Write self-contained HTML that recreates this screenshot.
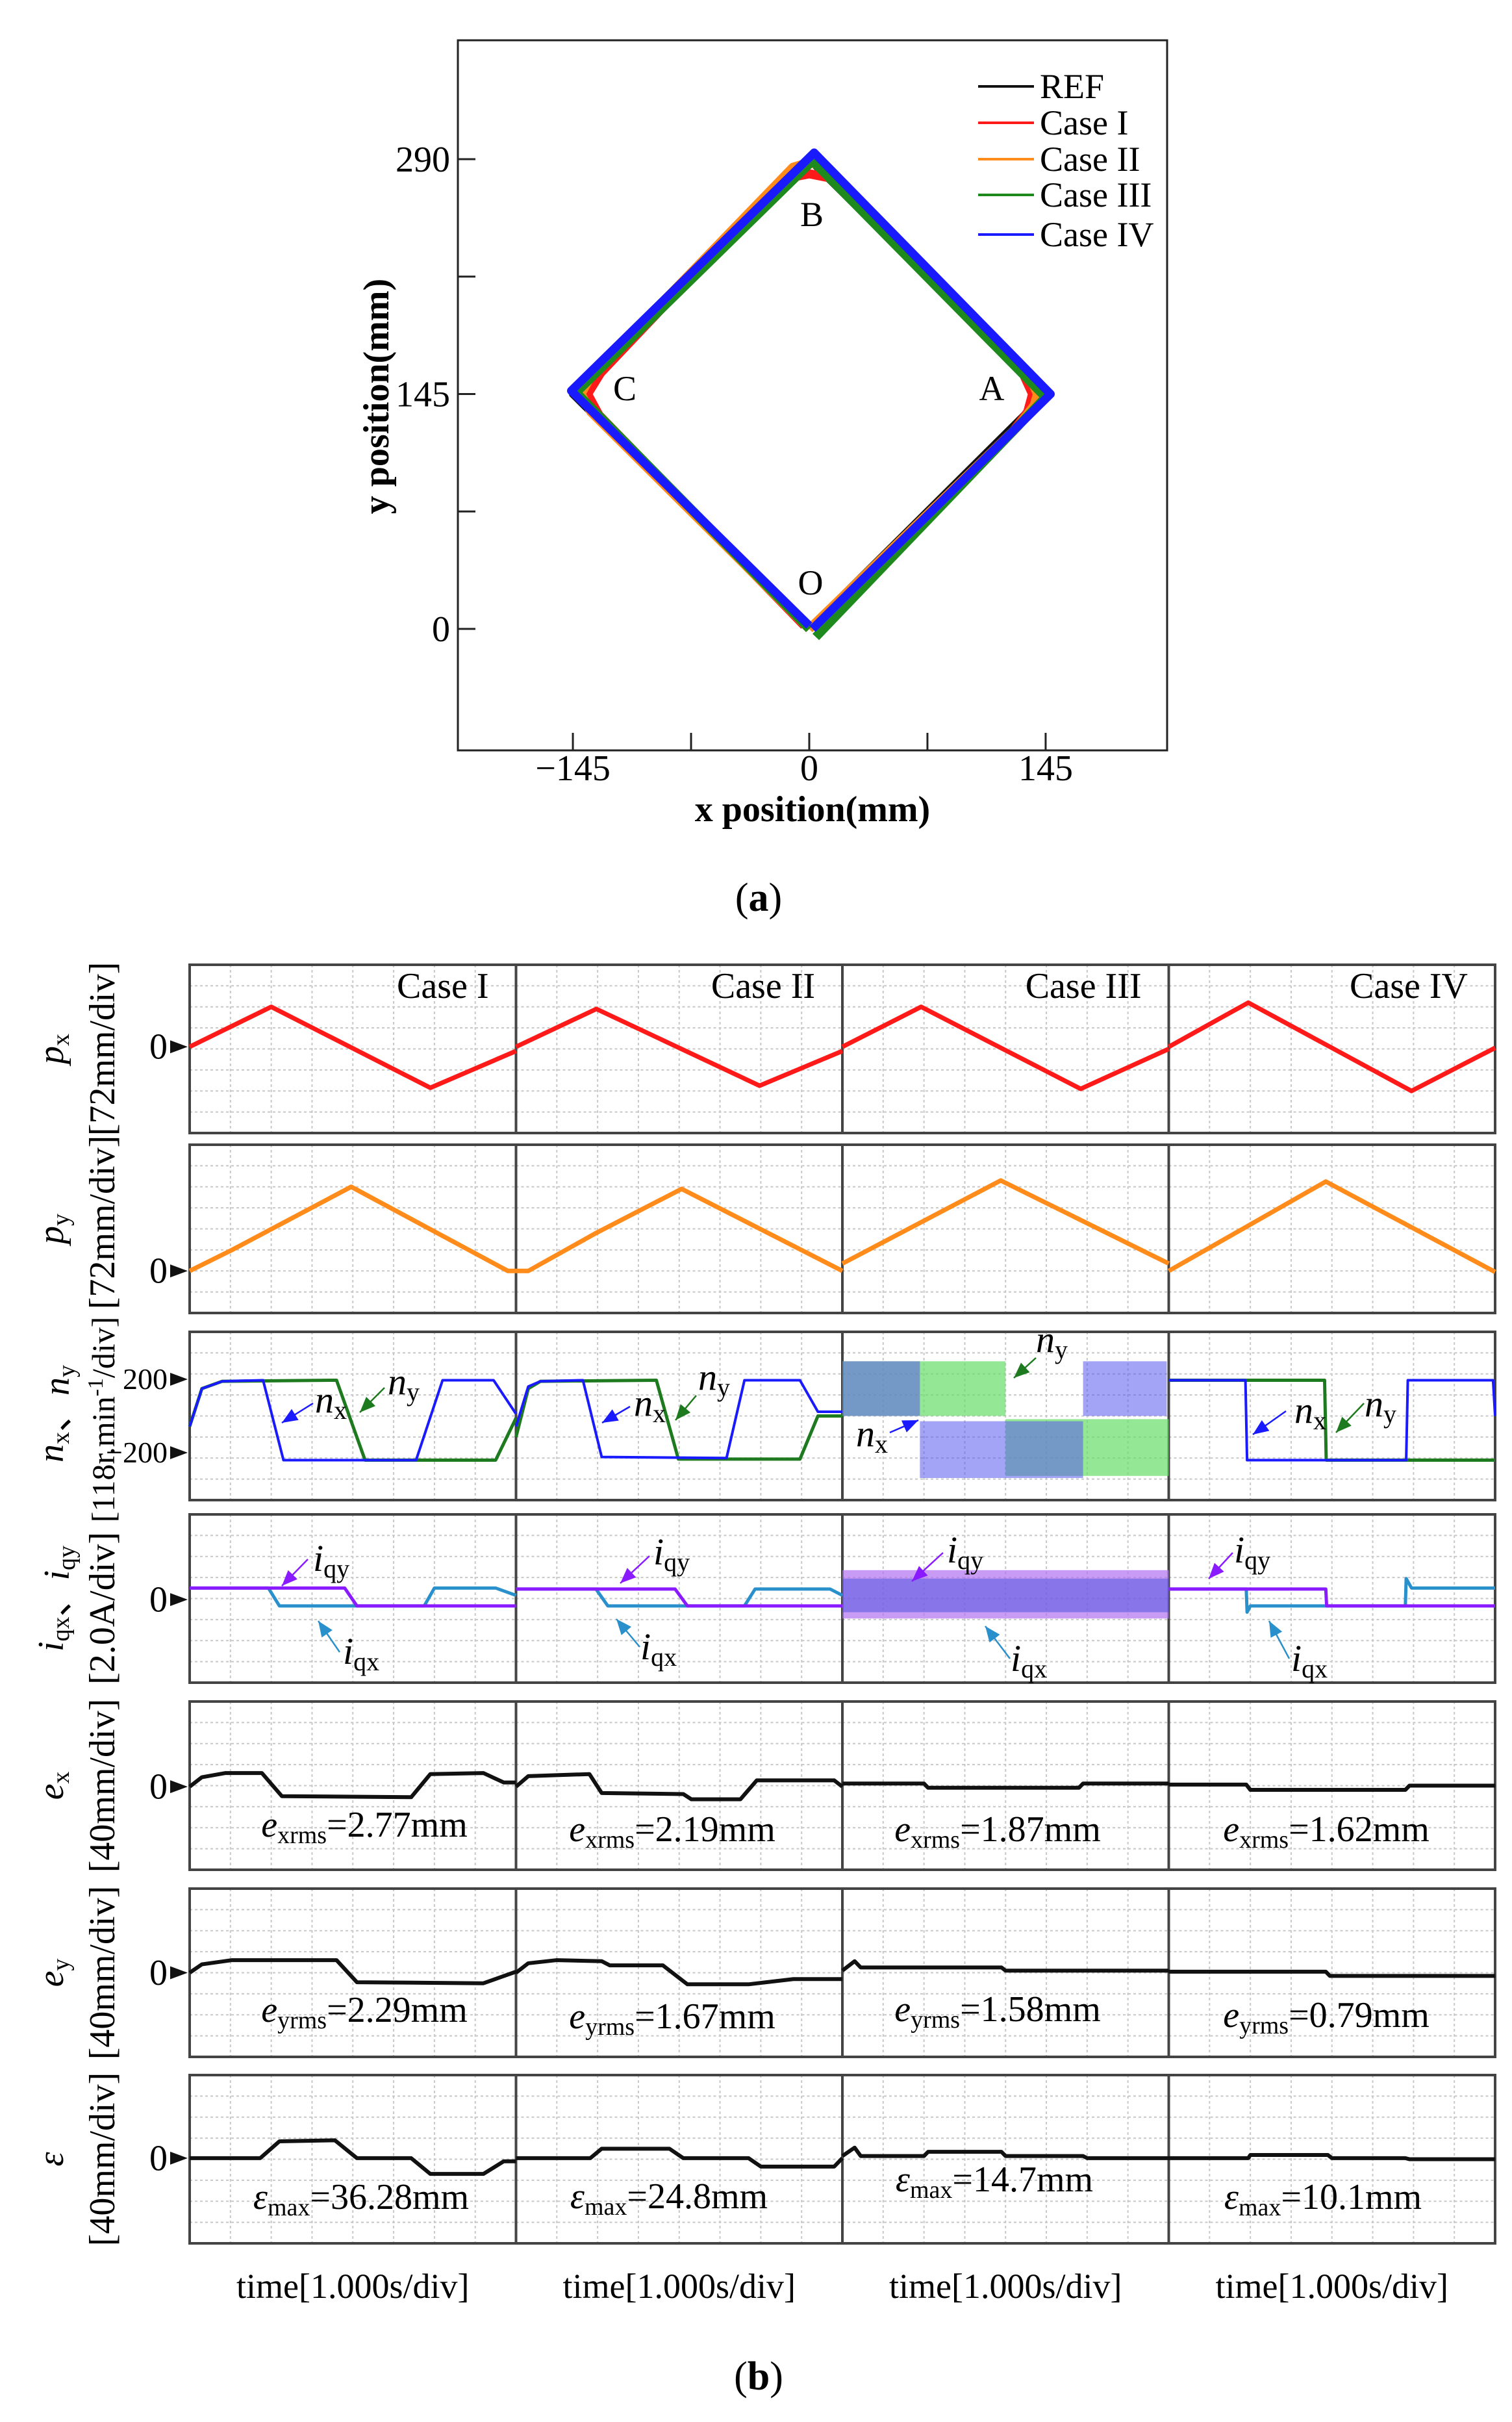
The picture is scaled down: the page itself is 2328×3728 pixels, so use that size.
<!DOCTYPE html>
<html><head><meta charset="utf-8">
<style>
html,body{margin:0;padding:0;background:#fff;}
svg{display:block;font-family:"Liberation Serif","DejaVu Serif",serif;}
</style></head>
<body>
<svg id="fig" xmlns="http://www.w3.org/2000/svg" width="2328" height="3728" viewBox="0 0 2328 3728">
<rect x="0" y="0" width="2328" height="3728" fill="#fff"/>
<g id="chartA"></g>
<g id="chartB"></g>
</svg>
<script>
// ===== Chart (a) data =====
const xTicks = [-145, 0, 145];
const yTicks = [0, 145, 290];
const xMinorTicks = [-145, -72.5, 0, 72.5, 145];
const yMinorTicks = [0, 72.5, 145, 217.5, 290];
const legendNames = ["REF", "Case I", "Case II", "Case III", "Case IV"];
const legendColors = ["#111111", "#ff1a1a", "#ff8c1a", "#1e8a1e", "#1a1aff"];
const refPath = [[0,0],[145,145],[0,290],[-145,145],[0,0]];
const case1Path = [[3,0],[125,122],[134,134],[137,145],[131,158],[15,278],[0,281],[-15,278],[-128,158],[-136,145],[-129,132],[-3,2]];
const case2Path = [[0,0],[128,125],[138,138],[140,145],[136,154],[10,285],[0,288],[-10,285],[-134,156],[-140,145],[-134,134],[0,0]];
const case3Path = [[4,-5],[145,143],[2,289],[-143,146],[0,0]];
const case4Path = [[2,0],[148,145],[3,294],[-146,147],[0,2]];

// ===== Chart (b) data (time and value in divisions) =====
const caseTitles = ["Case I", "Case II", "Case III", "Case IV"];
const pxCase1 = [[0,0],[2,1.9],[5.9,-1.95],[8,-0.2]];
const pxCase2 = [[0,0],[1.97,1.8],[5.97,-1.85],[8,-0.2]];
const pxCase3 = [[0,0],[1.93,1.9],[5.84,-2.0],[8,-0.1]];
const pxCase4 = [[0,0],[1.95,2.1],[5.95,-2.1],[8,-0.05]];
const pyCase1 = [[0,0],[1.04,1.0],[3.96,4.0],[7.8,0],[8,0]];
const pyCase2 = [[0,0],[0.3,0],[1.96,1.8],[4.06,3.9],[8,0]];
const pyCase3 = [[0,0.35],[3.88,4.3],[8,0.35]];
const pyCase4 = [[0,0],[3.85,4.25],[8,-0.05]];
const nxCase1 = [[0,-0.3],[0.3,1.5],[0.8,1.85],[1.8,1.9],[2.3,-1.9],[5.55,-1.9],[6.2,1.9],[7.45,1.9],[8,0.3]];
const nyCase1 = [[0,-0.3],[0.3,1.5],[0.8,1.85],[3.6,1.9],[4.3,-1.9],[7.5,-1.9],[8,0.1]];
const nxCase2 = [[0,-0.3],[0.3,1.6],[0.6,1.85],[1.64,1.9],[2.1,-1.75],[5.16,-1.8],[5.6,1.9],[6.96,1.9],[7.4,0.4],[8,0.4]];
const nyCase2 = [[0,-0.8],[0.3,1.5],[0.6,1.85],[3.44,1.9],[3.98,-1.85],[6.96,-1.85],[7.4,0.2],[8,0.2]];
const nxCase4 = [[0,1.9],[1.88,1.9],[1.92,-1.9],[5.82,-1.9],[5.86,1.9],[7.95,1.9],[8,0.2]];
const nyCase4 = [[0,1.9],[3.82,1.9],[3.86,-1.9],[8,-1.9]];
const nxBands3 = [[0,1.9,1.5,1.3],[1.9,5.9,-1.4,1.35],[5.9,7.95,1.5,1.3]];
const nyBands3 = [[0,4.0,1.5,1.3],[4.0,8,-1.3,1.35]];
const iqyCase1 = [[0,0.55],[3.8,0.55],[4.1,-0.3],[8,-0.3]];
const iqxCase1 = [[0,0.55],[1.93,0.55],[2.2,-0.3],[5.75,-0.3],[6.0,0.55],[7.5,0.55],[8,0.2]];
const iqyCase2 = [[0,0.5],[3.9,0.5],[4.2,-0.3],[8,-0.3]];
const iqxCase2 = [[0,0.5],[1.96,0.5],[2.25,-0.3],[5.6,-0.3],[5.86,0.5],[7.7,0.5],[8,0.2]];
const iqyCase4 = [[0,0.5],[3.85,0.5],[3.87,-0.3],[8,-0.3]];
const iqxCase4 = [[0,0.5],[1.9,0.5],[1.92,-0.6],[2.0,-0.3],[5.8,-0.3],[5.82,1.0],[5.95,0.55],[8,0.55]];
const iqBand3Purple = [[0,8,0.25,1.15]];
const iqBand3Blue = [[0,8,0.2,0.8]];
const exCase1 = [[0,0],[0.3,0.45],[0.88,0.65],[1.77,0.65],[2.26,-0.45],[5.43,-0.5],[5.9,0.6],[7.2,0.65],[7.7,0.2],[8,0.2]];
const exCase2 = [[0,0],[0.3,0.5],[1.8,0.6],[2.1,-0.3],[4.1,-0.35],[4.3,-0.6],[5.5,-0.6],[5.9,0.3],[7.8,0.3],[8,0]];
const exCase3 = [[0,0.15],[2.0,0.15],[2.1,-0.05],[5.8,-0.05],[5.9,0.15],[8,0.15]];
const exCase4 = [[0,0.1],[1.9,0.1],[2.0,-0.15],[5.8,-0.15],[5.9,0.05],[8,0.05]];
const eyCase1 = [[0,0],[0.3,0.4],[1.04,0.6],[3.6,0.6],[4.1,-0.45],[7.2,-0.5],[8,0.05]];
const eyCase2 = [[0,0],[0.3,0.45],[1.0,0.6],[2.1,0.55],[2.3,0.35],[3.6,0.35],[4.2,-0.55],[5.7,-0.55],[6.8,-0.3],[8,-0.3]];
const eyCase3 = [[0,0.1],[0.3,0.55],[0.45,0.25],[3.9,0.25],[4.0,0.1],[8,0.1]];
const eyCase4 = [[0,0.05],[3.85,0.05],[3.95,-0.15],[8,-0.15]];
const epsCase1 = [[0,0],[1.73,0],[2.2,0.8],[3.56,0.85],[4.1,0],[5.43,0],[5.9,-0.75],[7.2,-0.75],[7.7,-0.15],[8,-0.15]];
const epsCase2 = [[0,0],[1.82,0],[2.1,0.45],[3.76,0.45],[4.1,0],[5.7,0],[6.0,-0.4],[7.8,-0.4],[8,0]];
const epsCase3 = [[0,0.1],[0.3,0.5],[0.45,0.1],[2.0,0.1],[2.1,0.3],[3.9,0.3],[4.0,0.1],[5.9,0.1],[6.0,0],[8,0]];
const epsCase4 = [[0,0],[1.95,0],[2.0,0.15],[3.9,0.15],[4.0,0],[5.8,0],[5.9,-0.05],[8,-0.05]];
const exLabels = ["2.77mm", "2.19mm", "1.87mm", "1.62mm"];
const eyLabels = ["2.29mm", "1.67mm", "1.58mm", "0.79mm"];
const epsLabels = ["36.28mm", "24.8mm", "14.7mm", "10.1mm"];

const NS = "http://www.w3.org/2000/svg";
function mk(parent, tag, attrs, text) {
  const el = document.createElementNS(NS, tag);
  for (const k in attrs) el.setAttribute(k, attrs[k]);
  if (text !== undefined) el.textContent = text;
  parent.appendChild(el);
  return el;
}

// ===== Chart (a) =====
(function () {
  const g = document.getElementById('chartA');
  const L = 705, R = 1797, T = 62, B = 1155;
  const sx = v => 1246 + v * 2.51;
  const sy = v => 968 - v * 2.493;
  const frame = mk(g, 'rect', {x: L, y: T, width: R - L, height: B - T, fill: 'none', stroke: '#222', 'stroke-width': 3});
  
  
  xMinorTicks.forEach(v => { const t = mk(g, 'line', {x1: sx(v), x2: sx(v), y1: B, y2: B - 27, stroke: '#222', 'stroke-width': 3});
      });
  yMinorTicks.forEach(v => { const t = mk(g, 'line', {x1: L, x2: L + 27, y1: sy(v), y2: sy(v), stroke: '#222', 'stroke-width': 3});
      });
  xTicks.forEach(v => { const t = mk(g, 'text', {x: sx(v), y: 1201, 'font-size': 56, 'text-anchor': 'middle'}, v < 0 ? '\u2212' + (-v) : String(v));
      });
  yTicks.forEach(v => { const t = mk(g, 'text', {x: 693, y: sy(v) + 19, 'font-size': 56, 'text-anchor': 'end'}, String(v));
      });
  const xt = mk(g, 'text', {x: 1251, y: 1264, 'font-size': 56, 'font-weight': 'bold', 'text-anchor': 'middle'}, 'x position(mm)');
   
  const yt = mk(g, 'text', {x: 0, y: 0, 'font-size': 56, 'font-weight': 'bold', 'text-anchor': 'middle', transform: 'translate(598,610) rotate(-90)'}, 'y position(mm)');
   
  const paths = [refPath, case1Path, case2Path, case3Path, case4Path];
  const widths = [12, 14, 14, 14, 13];
  paths.forEach((p, i) => {
    const pl = mk(g, 'polyline', {points: p.map(q => sx(q[0]) + ',' + sy(q[1])).join(' '), fill: 'none', stroke: legendColors[i], 'stroke-width': widths[i], 'stroke-linejoin': 'round'});
    
    
  });
  const pts = [['B', 1250, 348], ['C', 962, 616], ['A', 1527, 616], ['O', 1248, 915]];
  pts.forEach(p => { const t = mk(g, 'text', {x: p[1], y: p[2], 'font-size': 54, 'text-anchor': 'middle'}, p[0]);
      });
  const legendY = [133, 189, 245, 300, 361];
  legendNames.forEach((n, i) => {
    const lg = mk(g, 'g', {});
    
    
    mk(lg, 'line', {x1: 1506, x2: 1592, y1: legendY[i], y2: legendY[i], stroke: legendColors[i], 'stroke-width': 4});
    mk(lg, 'text', {x: 1601, y: legendY[i] + 18, 'font-size': 54}, n);
  });
  const la = mk(g, 'text', {x: 1168, y: 1402, 'font-size': 62, 'text-anchor': 'middle'}, '');
   
  la.innerHTML = '(<tspan font-weight="bold">a</tspan>)';
})();

// ===== Chart (b) =====
(function () {
  const g = document.getElementById('chartB');
  const colL = [292, 794.5, 1297, 1799.5], colW = 502.5;
  const rowT = [1485, 1762, 2050, 2331, 2619, 2907, 3194], rowH = 259;
  const zeroDiv = [4.1, 2.0, 3.8, 3.95, 3.95, 4.0, 4.05];
  const divW = colW / 8, divH = rowH / 8;
  const X = (c, t) => colL[c] + t * divW;
  const Y = (r, v) => rowT[r] + rowH - (zeroDiv[r] + v) * divH;

  rowT.forEach((top, r) => {
    const pg = mk(g, 'g', {});
    
    
    for (let c = 0; c < 4; c++) {
      for (let i = 1; i < 8; i++) {
        mk(pg, 'line', {x1: X(c, i), x2: X(c, i), y1: top, y2: top + rowH, stroke: '#c8c8c8', 'stroke-width': 2, 'stroke-dasharray': '4 4'});
        mk(pg, 'line', {x1: colL[c], x2: colL[c] + colW, y1: top + i * divH, y2: top + i * divH, stroke: '#c8c8c8', 'stroke-width': 2, 'stroke-dasharray': '4 4'});
      }
    }
    mk(pg, 'rect', {x: 292, y: top, width: colW * 4, height: rowH, fill: 'none', stroke: '#444', 'stroke-width': 4});
    for (let c = 1; c < 4; c++) mk(pg, 'line', {x1: colL[c], x2: colL[c], y1: top, y2: top + rowH, stroke: '#444', 'stroke-width': 4});
  });

  function trace(r, c, data, color, w, name) {
    const pl = mk(g, 'polyline', {points: data.map(p => X(c, p[0]) + ',' + Y(r, p[1])).join(' '), fill: 'none', stroke: color, 'stroke-width': w, 'stroke-linejoin': 'round'});
    
    
  }
  function band(r, c, bands, color, op, name) {
    bands.forEach(b => {
      const rc = mk(g, 'rect', {x: X(c, b[0]), y: Y(r, b[2] + b[3]), width: X(c, b[1]) - X(c, b[0]), height: Y(r, b[2] - b[3]) - Y(r, b[2] + b[3]), fill: color, 'fill-opacity': op});
      
      
    });
  }
  const RED = '#ff1a1a', ORG = '#ff8c1a', BLU = '#1a1aff', GRN = '#1e7a1e', PUR = '#8a1aff', LBL = '#2a90cc';
  [pxCase1, pxCase2, pxCase3, pxCase4].forEach((d, c) => trace(0, c, d, RED, 7, 'px-trace'));
  [pyCase1, pyCase2, pyCase3, pyCase4].forEach((d, c) => trace(1, c, d, ORG, 7, 'py-trace'));
  trace(2, 0, nyCase1, GRN, 5, 'ny-trace'); trace(2, 0, nxCase1, BLU, 4, 'nx-trace');
  trace(2, 1, nyCase2, GRN, 5, 'ny-trace'); trace(2, 1, nxCase2, BLU, 4, 'nx-trace');
  band(2, 2, nyBands3, '#66dd66', 0.7, 'ny-noise-band');
  band(2, 2, nxBands3, '#5a5aee', 0.55, 'nx-noise-band');
  trace(2, 3, nyCase4, GRN, 5, 'ny-trace'); trace(2, 3, nxCase4, BLU, 4, 'nx-trace');
  trace(3, 0, iqxCase1, LBL, 5, 'iqx-trace'); trace(3, 0, iqyCase1, PUR, 5, 'iqy-trace');
  trace(3, 1, iqxCase2, LBL, 5, 'iqx-trace'); trace(3, 1, iqyCase2, PUR, 5, 'iqy-trace');
  band(3, 2, iqBand3Purple, '#b070f0', 0.7, 'iqy-noise-band');
  band(3, 2, iqBand3Blue, '#4a50e0', 0.5, 'iqx-noise-band');
  trace(3, 3, iqxCase4, LBL, 5, 'iqx-trace'); trace(3, 3, iqyCase4, PUR, 5, 'iqy-trace');
  [exCase1, exCase2, exCase3, exCase4].forEach((d, c) => trace(4, c, d, '#111', 6, 'ex-trace'));
  [eyCase1, eyCase2, eyCase3, eyCase4].forEach((d, c) => trace(5, c, d, '#111', 6, 'ey-trace'));
  [epsCase1, epsCase2, epsCase3, epsCase4].forEach((d, c) => trace(6, c, d, '#111', 6, 'eps-trace'));

  caseTitles.forEach((t, c) => { const tx = mk(g, 'text', {x: colL[c] + colW - 42, y: 1536, 'font-size': 56, 'text-anchor': 'end'}, t);
      });

  function marker(y, label, fs) {
    const mg = mk(g, 'g', {});
    
    
    mk(mg, 'polygon', {points: (262) + ',' + (y - 10) + ' 289,' + y + ' 262,' + (y + 10), fill: '#111'});
    mk(mg, 'text', {x: 258, y: y + fs * 0.33, 'font-size': fs, 'text-anchor': 'end'}, label);
  }
  [0, 1, 3, 4, 5, 6].forEach(r => marker(Y(r, 0), '0', 56));
  marker(2123, '200', 46);
  marker(2236, '\u2212200', 46);

  function ylab(cx, cy, html, name, fs) {
    const t = mk(g, 'text', {x: 0, y: 0, 'font-size': fs || 56, 'text-anchor': 'middle', transform: 'translate(' + cx + ',' + cy + ') rotate(-90)'});
    
    
    t.innerHTML = html;
  }
  const sub = s => '<tspan font-size="38" dy="9">' + s + '</tspan><tspan dy="-9"></tspan>';
  const rc = r => rowT[r] + rowH / 2;
  ylab(97, rc(0), '<tspan font-style="italic">p</tspan>' + sub('x'), 'px-axis-symbol');
  ylab(176, rc(0), '[72mm/div]', 'px-axis-unit');
  ylab(97, rc(1), '<tspan font-style="italic">p</tspan>' + sub('y'), 'py-axis-symbol');
  ylab(176, rc(1) - 10, '[72mm/div]', 'py-axis-unit');
  ylab(97, 2176, '<tspan font-style="italic">n</tspan>' + sub('x') + '\u3001<tspan font-style="italic">n</tspan>' + sub('y'), 'n-axis-symbol');
  ylab(176, 2185, '[118r.min<tspan font-size="34" dy="-18">-1</tspan><tspan dy="18">/div]</tspan>', 'n-axis-unit', 50);
  ylab(97, rc(3), '<tspan font-style="italic">i</tspan>' + sub('qx') + '\u3001<tspan font-style="italic">i</tspan>' + sub('qy'), 'iq-axis-symbol');
  ylab(176, rc(3) + 15, '[2.0A/div]', 'iq-axis-unit');
  ylab(97, rc(4), '<tspan font-style="italic">e</tspan>' + sub('x'), 'ex-axis-symbol');
  ylab(176, rc(4), '[40mm/div]', 'ex-axis-unit');
  ylab(97, rc(5), '<tspan font-style="italic">e</tspan>' + sub('y'), 'ey-axis-symbol');
  ylab(176, rc(5), '[40mm/div]', 'ey-axis-unit');
  ylab(97, rc(6), '<tspan font-style="italic">\u03b5</tspan>', 'eps-axis-symbol');
  ylab(176, rc(6), '[40mm/div]', 'eps-axis-unit');

  function metric(cx, y, sym, subs, val, name) {
    const t = mk(g, 'text', {x: cx, y: y, 'font-size': 56, 'text-anchor': 'middle'});
    
    
    t.innerHTML = '<tspan font-style="italic">' + sym + '</tspan><tspan font-size="38" dy="10">' + subs + '</tspan><tspan dy="-10">=' + val + '</tspan>';
  }
  const exY = [2827, 2834, 2834, 2834], eyY = [3112, 3122, 3111, 3120], epY = [3400, 3399, 3373, 3400];
  const cxs = [561, 1035, 1536, 2042];
  for (let c = 0; c < 4; c++) {
    metric(cxs[c], exY[c], 'e', 'xrms', exLabels[c], 'ex-rms-label');
    metric(cxs[c], eyY[c], 'e', 'yrms', eyLabels[c], 'ey-rms-label');
    metric(cxs[c] - 5, epY[c], '\u03b5', 'max', epsLabels[c], 'eps-max-label');
    const tl = mk(g, 'text', {x: colL[c] + colW / 2, y: 3537, 'font-size': 54, 'text-anchor': 'middle'}, 'time[1.000s/div]');
    
    
  }

  function callout(tx, ty, sym, subs, x1, y1, x2, y2, color, name) {
    const cg = mk(g, 'g', {});
    
    
    mk(cg, 'line', {x1: x1, y1: y1, x2: x2, y2: y2, stroke: color, 'stroke-width': 2.5});
    const a = Math.atan2(y2 - y1, x2 - x1), L = 24, W = 10;
    const bx = x2 - L * Math.cos(a), by = y2 - L * Math.sin(a);
    mk(cg, 'polygon', {points: x2 + ',' + y2 + ' ' + (bx + W * Math.sin(a)) + ',' + (by - W * Math.cos(a)) + ' ' + (bx - W * Math.sin(a)) + ',' + (by + W * Math.cos(a)), fill: color});
    const t = mk(cg, 'text', {x: tx, y: ty, 'font-size': 58});
    t.innerHTML = '<tspan font-style="italic">' + sym + '</tspan><tspan font-size="40" dy="10">' + subs + '</tspan>';
  }
  callout(485, 2174, 'n', 'x', 482, 2160, 434, 2190, BLU, 'nx-callout');
  callout(597, 2146, 'n', 'y', 592, 2136, 554, 2174, GRN, 'ny-callout');
  callout(976, 2179, 'n', 'x', 970, 2165, 927, 2190, BLU, 'nx-callout');
  callout(1075, 2139, 'n', 'y', 1072, 2148, 1040, 2186, GRN, 'ny-callout');
  callout(1595, 2081, 'n', 'y', 1595, 2090, 1561, 2121, GRN, 'ny-callout');
  callout(1318, 2226, 'n', 'x', 1370, 2205, 1414, 2186, BLU, 'nx-callout');
  callout(1993, 2190, 'n', 'x', 1980, 2172, 1929, 2208, BLU, 'nx-callout');
  callout(2101, 2180, 'n', 'y', 2100, 2160, 2057, 2205, GRN, 'ny-callout');
  callout(482, 2418, 'i', 'qy', 474, 2400, 434, 2441, PUR, 'iqy-callout');
  callout(528, 2561, 'i', 'qx', 523, 2543, 490, 2495, LBL, 'iqx-callout');
  callout(1006, 2408, 'i', 'qy', 1000, 2395, 955, 2437, PUR, 'iqy-callout');
  callout(986, 2554, 'i', 'qx', 985, 2535, 949, 2492, LBL, 'iqx-callout');
  callout(1458, 2405, 'i', 'qy', 1452, 2390, 1404, 2434, PUR, 'iqy-callout');
  callout(1556, 2572, 'i', 'qx', 1555, 2553, 1517, 2503, LBL, 'iqx-callout');
  callout(1900, 2405, 'i', 'qy', 1898, 2390, 1861, 2430, PUR, 'iqy-callout');
  callout(1988, 2572, 'i', 'qx', 1985, 2553, 1954, 2495, LBL, 'iqx-callout');

  const lb = mk(g, 'text', {x: 1168, y: 3678, 'font-size': 62, 'text-anchor': 'middle'}, '');
  
  
  lb.innerHTML = '(<tspan font-weight="bold">b</tspan>)';
})();
</script>
</body></html>
